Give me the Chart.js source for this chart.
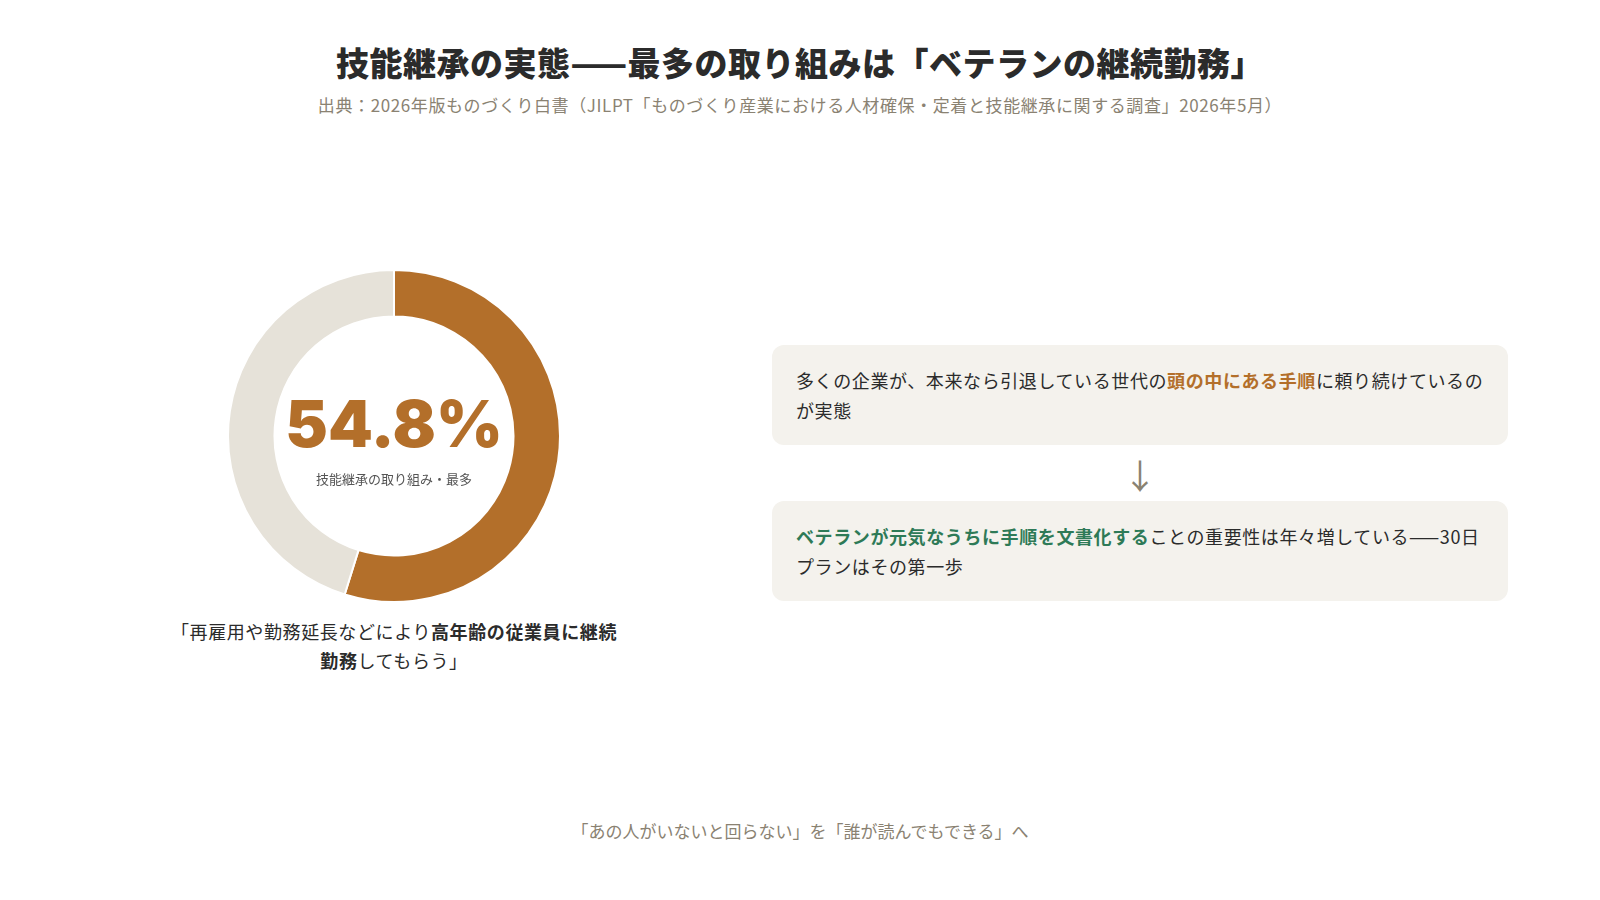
<!DOCTYPE html>
<html><head><meta charset="utf-8">
<script src="https://cdn.jsdelivr.net/npm/chart.js@4"></script>
<style>
body{margin:0;width:1600px;height:900px;background:#fff;font-family:"Noto Sans CJK JP","Noto Sans",sans-serif;position:relative;overflow:hidden;color:#2b2b2b}
.t{position:absolute;left:0;width:1600px;text-align:center}
#title{top:38px;font-size:33px;font-weight:900;color:#2b2b2b;letter-spacing:0.5px}
#sub{top:92px;font-size:17px;color:#8a8272;letter-spacing:0.6px}
#wrap{position:absolute;left:227px;top:269px;width:334px;height:334px}
#big{position:absolute;left:214px;top:392px;width:360px;text-align:center;font-family:"Inter","Noto Sans",sans-serif;font-weight:900;font-size:64px;color:#b36f2a;line-height:1}
#lab{position:absolute;left:214px;top:469px;width:360px;text-align:center;font-size:13px;color:#555}
#quote{position:absolute;left:164px;top:617px;width:460px;text-align:center;font-size:18px;line-height:29px;color:#2b2b2b;letter-spacing:0.6px}
.card{position:absolute;left:772px;width:688px;padding:0 24px;height:100px;background:#f4f2ed;border-radius:12px;font-size:18px;line-height:30px;letter-spacing:0.6px;display:flex;align-items:center;color:#2b2b2b}
#arrow{position:absolute;left:1120px;top:450px;width:40px;text-align:center;font-size:34px;color:#8a8272}
#foot{top:818px;font-size:17px;color:#8a8272}
b.o{color:#b36f2a}b.g{color:#2e7a57}
</style></head><body>
<div class="t" id="title">技能継承の実態——最多の取り組みは「ベテランの継続勤務」</div>
<div class="t" id="sub">出典：2026年版ものづくり白書（JILPT「ものづくり産業における人材確保・定着と技能継承に関する調査」2026年5月）</div>
<div id="wrap"><canvas id="c"></canvas></div>
<div id="big">54.8%</div>
<div id="lab">技能継承の取り組み・最多</div>
<div id="quote">「再雇用や勤務延長などにより<b>高年齢の従業員に継続勤務</b>してもらう」</div>
<div class="card" style="top:345px"><div>多くの企業が、本来なら引退している世代の<b class="o">頭の中にある手順</b>に頼り続けているのが実態</div></div>
<div id="arrow">↓</div>
<div class="card" style="top:501px"><div><b class="g">ベテランが元気なうちに手順を文書化する</b>ことの重要性は年々増している——30日プランはその第一歩</div></div>
<div class="t" id="foot">「あの人がいないと回らない」を「誰が読んでもできる」へ</div>
<script>
const labels=["高年齢の従業員に継続勤務","その他"];
const values=[54.8,45.2];
new Chart(document.getElementById('c'),{type:'doughnut',
data:{labels:labels,datasets:[{data:values,backgroundColor:['#b36f2a','#e6e2d9'],borderWidth:2,borderColor:'#fff'}]},
options:{responsive:true,maintainAspectRatio:false,cutout:'72%',animation:false,
plugins:{legend:{display:false},tooltip:{enabled:false}},layout:{padding:0}}});
</script>
</body></html>
